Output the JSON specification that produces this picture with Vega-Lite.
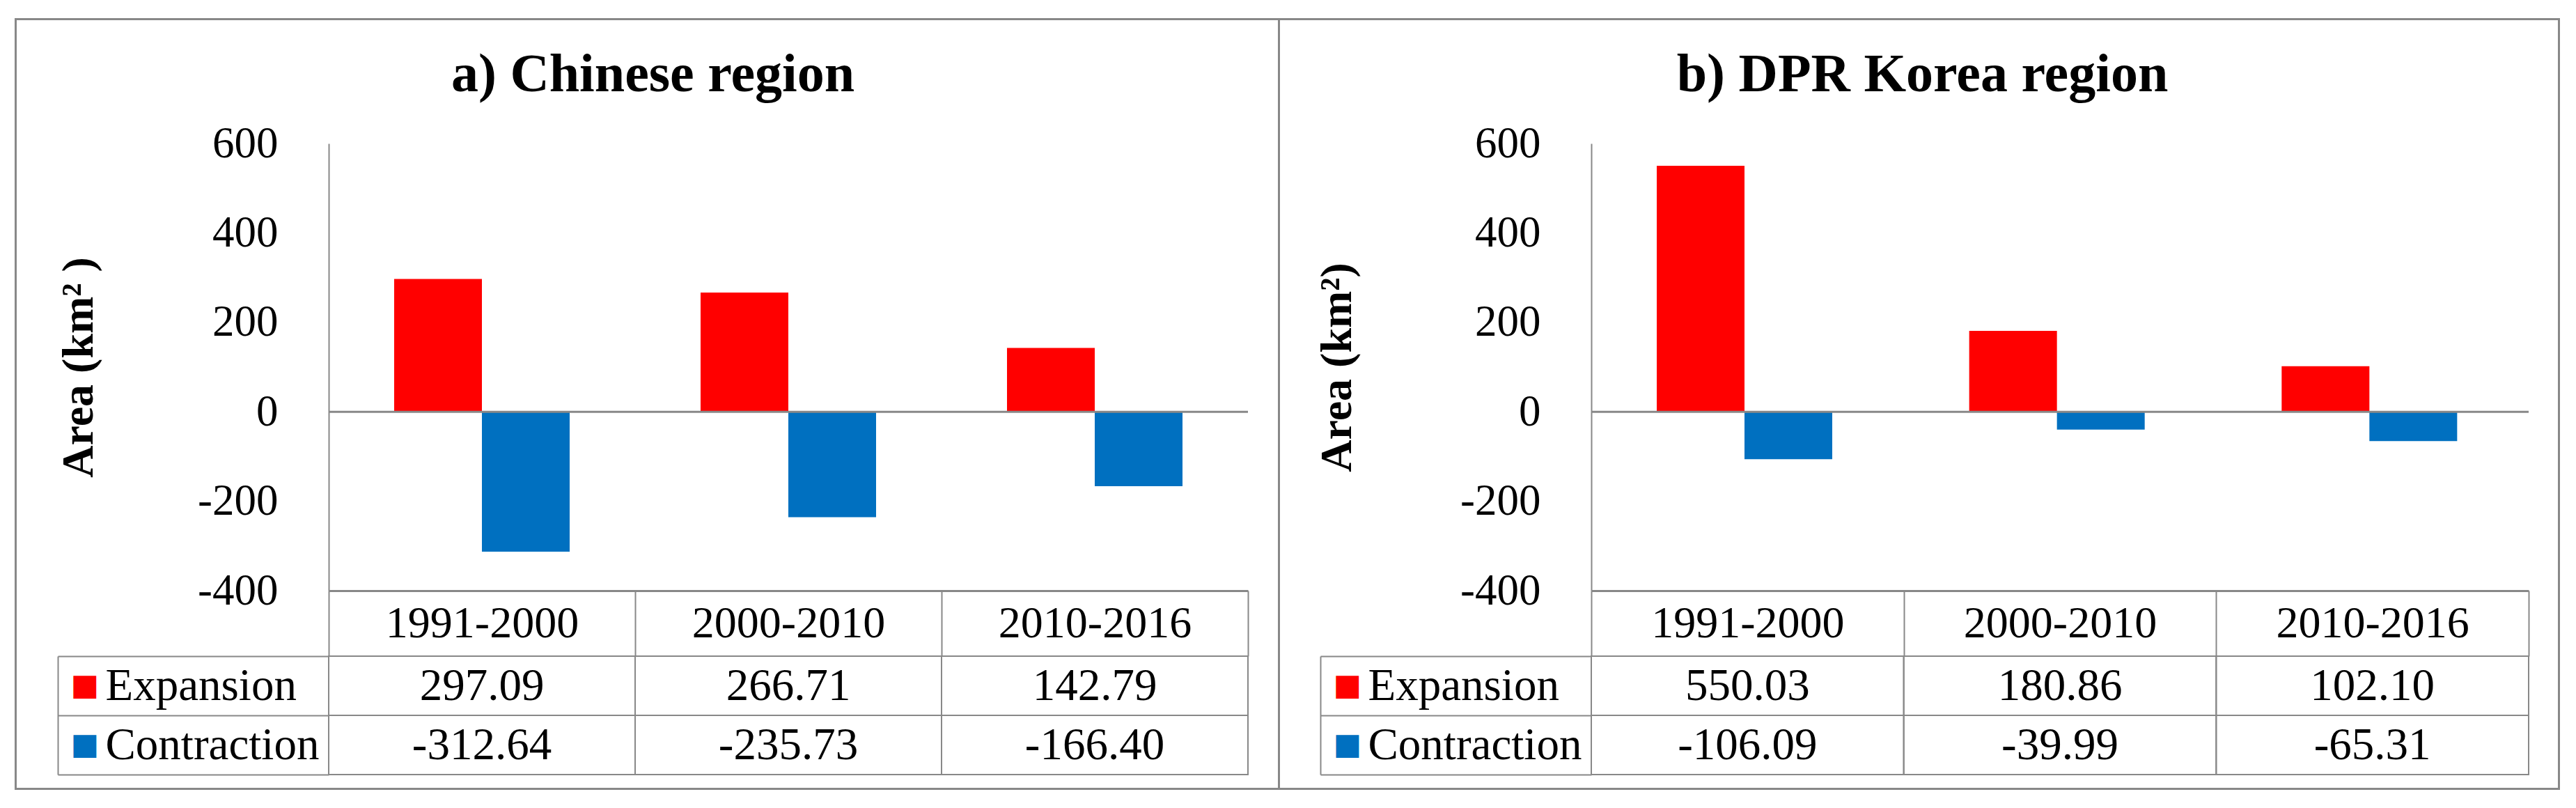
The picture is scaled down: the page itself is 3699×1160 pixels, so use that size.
{
  "$schema": "https://vega.github.io/schema/vega-lite/v6.json",
  "background": "white",
  "padding": {"left": 21, "top": 26, "right": 0, "bottom": 0},
  "config": {
    "view": {"stroke": null},
    "font": "Liberation Serif",
    "axis": {"labelLimit": 1000, "titleLimit": 1000},
    "locale": {"number": {"decimal": ".", "thousands": ",", "grouping": [3], "currency": ["$", ""], "minus": "-"}}
  },
  "datasets": {
    "cn": [
      {"period": "1991-2000", "series": "Expansion", "value": 297.09},
      {"period": "1991-2000", "series": "Contraction", "value": -312.64},
      {"period": "2000-2010", "series": "Expansion", "value": 266.71},
      {"period": "2000-2010", "series": "Contraction", "value": -235.73},
      {"period": "2010-2016", "series": "Expansion", "value": 142.79},
      {"period": "2010-2016", "series": "Contraction", "value": -166.40}
    ],
    "kp": [
      {"period": "1991-2000", "series": "Expansion", "value": 550.03},
      {"period": "1991-2000", "series": "Contraction", "value": -106.09},
      {"period": "2000-2010", "series": "Expansion", "value": 180.86},
      {"period": "2000-2010", "series": "Contraction", "value": -39.99},
      {"period": "2010-2016", "series": "Expansion", "value": 102.10},
      {"period": "2010-2016", "series": "Contraction", "value": -65.31}
    ],
    "none": []
  },
  "columns": 9,
  "spacing": 0,
  "align": "each",
  "bounds": "flush",
  "concat": [
    {"width": 3, "height": 3, "data": {"name": "none"}, "mark": "rule", "encoding": {}, "view": {"fill": "#888888", "stroke": null}},
    {"width": 448, "height": 3, "data": {"name": "none"}, "mark": "rule", "encoding": {}, "view": {"fill": "#888888", "stroke": null}},
    {"width": 1320, "height": 3, "data": {"name": "none"}, "mark": "rule", "encoding": {}, "view": {"fill": "#888888", "stroke": null}},
    {"width": 43, "height": 3, "data": {"name": "none"}, "mark": "rule", "encoding": {}, "view": {"fill": "#888888", "stroke": null}},
    {"width": 3, "height": 3, "data": {"name": "none"}, "mark": "rule", "encoding": {}, "view": {"fill": "#888888", "stroke": null}},
    {"width": 447, "height": 3, "data": {"name": "none"}, "mark": "rule", "encoding": {}, "view": {"fill": "#888888", "stroke": null}},
    {"width": 1346, "height": 3, "data": {"name": "none"}, "mark": "rule", "encoding": {}, "view": {"fill": "#888888", "stroke": null}},
    {"width": 42, "height": 3, "data": {"name": "none"}, "mark": "rule", "encoding": {}, "view": {"fill": "#888888", "stroke": null}},
    {"width": 3, "height": 3, "data": {"name": "none"}, "mark": "rule", "encoding": {}, "view": {"fill": "#888888", "stroke": null}},

    {"width": 3, "height": 177, "data": {"name": "none"}, "mark": "rule", "encoding": {}, "view": {"fill": "#888888", "stroke": null}},
    {"width": 448, "height": 177, "data": {"name": "none"}, "mark": "rule", "encoding": {}, "view": {"stroke": null}},
    {"width": 1320, "height": 177, "data": {"name": "none"}, "mark": "rule", "encoding": {}, "view": {"stroke": null}},
    {"width": 43, "height": 177, "data": {"name": "none"}, "mark": "rule", "encoding": {}, "view": {"stroke": null}},
    {"width": 3, "height": 177, "data": {"name": "none"}, "mark": "rule", "encoding": {}, "view": {"fill": "#888888", "stroke": null}},
    {"width": 447, "height": 177, "data": {"name": "none"}, "mark": "rule", "encoding": {}, "view": {"stroke": null}},
    {"width": 1346, "height": 177, "data": {"name": "none"}, "mark": "rule", "encoding": {}, "view": {"stroke": null}},
    {"width": 42, "height": 177, "data": {"name": "none"}, "mark": "rule", "encoding": {}, "view": {"stroke": null}},
    {"width": 3, "height": 177, "data": {"name": "none"}, "mark": "rule", "encoding": {}, "view": {"fill": "#888888", "stroke": null}},

    {"width": 3, "height": 642, "data": {"name": "none"}, "mark": "rule", "encoding": {}, "view": {"fill": "#888888", "stroke": null}},
    {"width": 448, "height": 642, "data": {"name": "none"}, "mark": "rule", "encoding": {}, "view": {"stroke": null}},
    {
      "width": 1320, "height": 642,
      "data": {"name": "cn"},
      "title": {"text": "a) Chinese region", "font": "Liberation Serif", "fontSize": 78, "fontWeight": "bold", "color": "black", "anchor": "middle", "frame": "bounds", "offset": 28},
      "layer": [
        {
          "mark": {"type": "bar"},
          "encoding": {
            "x": {"field": "period", "type": "nominal", "sort": null, "scale": {"paddingInner": 0, "paddingOuter": 0},
                  "axis": {"title": null, "orient": "bottom", "domain": true, "domainColor": "#888888", "domainWidth": 3, "ticks": true, "tickBand": "extent", "tickSize": 94, "tickColor": "#888888", "tickWidth": 2, "labelAngle": 0, "labelFont": "Liberation Serif", "labelFontSize": 64, "labelColor": "black", "labelBaseline": "middle", "labelPadding": -47, "labelOverlap": false, "labelLimit": 1000, "grid": false}},
            "xOffset": {"field": "series", "type": "nominal", "sort": ["Expansion", "Contraction"], "scale": {"paddingInner": 0, "paddingOuter": 0.746}},
            "y": {"field": "value", "type": "quantitative", "scale": {"domain": [-400, 600], "nice": false},
                  "axis": {"title": "Area (km² )", "titleFont": "Liberation Serif", "titleFontSize": 64, "titleFontWeight": "bold", "titleColor": "black", "titlePadding": 138, "labelFont": "Liberation Serif", "labelFontSize": 63, "labelColor": "black", "labelPadding": 73, "labelFlush": false, "ticks": false, "grid": false, "domainColor": "#888888", "domainWidth": 2, "values": [-400, -200, 0, 200, 400, 600]}},
            "color": {"field": "series", "type": "nominal", "scale": {"domain": ["Expansion", "Contraction"], "range": ["#FF0000", "#0070C0"]}, "legend": null}
          }
        },
        {
          "data": {"values": [{}]},
          "mark": {"type": "rule", "color": "#888888", "strokeWidth": 3},
          "encoding": {"y": {"datum": 0}}
        }
      ]
    },
    {"width": 43, "height": 642, "data": {"name": "none"}, "mark": "rule", "encoding": {}, "view": {"stroke": null}},
    {"width": 3, "height": 642, "data": {"name": "none"}, "mark": "rule", "encoding": {}, "view": {"fill": "#888888", "stroke": null}},
    {"width": 447, "height": 642, "data": {"name": "none"}, "mark": "rule", "encoding": {}, "view": {"stroke": null}},
    {
      "width": 1346, "height": 642,
      "data": {"name": "kp"},
      "title": {"text": "b) DPR Korea region", "font": "Liberation Serif", "fontSize": 78, "fontWeight": "bold", "color": "black", "anchor": "middle", "frame": "bounds", "offset": 28},
      "layer": [
        {
          "mark": {"type": "bar"},
          "encoding": {
            "x": {"field": "period", "type": "nominal", "sort": null, "scale": {"paddingInner": 0, "paddingOuter": 0},
                  "axis": {"title": null, "orient": "bottom", "domain": true, "domainColor": "#888888", "domainWidth": 3, "ticks": true, "tickBand": "extent", "tickSize": 94, "tickColor": "#888888", "tickWidth": 2, "labelAngle": 0, "labelFont": "Liberation Serif", "labelFontSize": 64, "labelColor": "black", "labelBaseline": "middle", "labelPadding": -47, "labelOverlap": false, "labelLimit": 1000, "grid": false}},
            "xOffset": {"field": "series", "type": "nominal", "sort": ["Expansion", "Contraction"], "scale": {"paddingInner": 0, "paddingOuter": 0.746}},
            "y": {"field": "value", "type": "quantitative", "scale": {"domain": [-400, 600], "nice": false},
                  "axis": {"title": "Area (km²)", "titleFont": "Liberation Serif", "titleFontSize": 64, "titleFontWeight": "bold", "titleColor": "black", "titlePadding": 144, "labelFont": "Liberation Serif", "labelFontSize": 63, "labelColor": "black", "labelPadding": 73, "labelFlush": false, "ticks": false, "grid": false, "domainColor": "#888888", "domainWidth": 2, "values": [-400, -200, 0, 200, 400, 600]}},
            "color": {"field": "series", "type": "nominal", "scale": {"domain": ["Expansion", "Contraction"], "range": ["#FF0000", "#0070C0"]}, "legend": null}
          }
        },
        {
          "data": {"values": [{}]},
          "mark": {"type": "rule", "color": "#888888", "strokeWidth": 3},
          "encoding": {"y": {"datum": 0}}
        }
      ]
    },
    {"width": 42, "height": 642, "data": {"name": "none"}, "mark": "rule", "encoding": {}, "view": {"stroke": null}},
    {"width": 3, "height": 642, "data": {"name": "none"}, "mark": "rule", "encoding": {}, "view": {"fill": "#888888", "stroke": null}},

    {"width": 3, "height": 94, "data": {"name": "none"}, "mark": "rule", "encoding": {}, "view": {"fill": "#888888", "stroke": null}},
    {"width": 448, "height": 94, "data": {"name": "none"}, "mark": "rule", "encoding": {}, "view": {"stroke": null}},
    {"width": 1320, "height": 94, "data": {"name": "none"}, "mark": "rule", "encoding": {}, "view": {"stroke": null}},
    {"width": 43, "height": 94, "data": {"name": "none"}, "mark": "rule", "encoding": {}, "view": {"stroke": null}},
    {"width": 3, "height": 94, "data": {"name": "none"}, "mark": "rule", "encoding": {}, "view": {"fill": "#888888", "stroke": null}},
    {"width": 447, "height": 94, "data": {"name": "none"}, "mark": "rule", "encoding": {}, "view": {"stroke": null}},
    {"width": 1346, "height": 94, "data": {"name": "none"}, "mark": "rule", "encoding": {}, "view": {"stroke": null}},
    {"width": 42, "height": 94, "data": {"name": "none"}, "mark": "rule", "encoding": {}, "view": {"stroke": null}},
    {"width": 3, "height": 94, "data": {"name": "none"}, "mark": "rule", "encoding": {}, "view": {"fill": "#888888", "stroke": null}},

    {"width": 3, "height": 170, "data": {"name": "none"}, "mark": "rule", "encoding": {}, "view": {"fill": "#888888", "stroke": null}},
    {"width": 448, "height": 170, "data": {"name": "none"}, "mark": "rule", "encoding": {}, "view": {"stroke": null}},
    {
      "width": 1320, "height": 170,
      "data": {"name": "cn"},
      "layer": [
        {
          "mark": {"type": "rect", "fill": "transparent", "stroke": "#888888", "strokeWidth": 2},
          "encoding": {
            "x": {"field": "period", "type": "nominal", "sort": null, "scale": {"paddingInner": 0, "paddingOuter": 0}, "axis": null},
            "y": {"field": "series", "type": "nominal", "sort": ["Expansion", "Contraction"], "scale": {"paddingInner": 0, "paddingOuter": 0},
                  "axis": {"orient": "left", "title": null, "domain": false, "ticks": true, "tickBand": "extent", "tickSize": 389, "tickColor": "#888888", "tickWidth": 2, "labelFont": "Liberation Serif", "labelFontSize": 65, "labelColor": "black", "labelAlign": "left", "labelBaseline": "middle", "labelPadding": -68, "labelLimit": 1000, "grid": false}}
          }
        },
        {
          "mark": {"type": "text", "font": "Liberation Serif", "fontSize": 65, "color": "black", "align": "center", "baseline": "middle"},
          "encoding": {
            "x": {"field": "period", "type": "nominal", "sort": null, "axis": null},
            "y": {"field": "series", "type": "nominal", "sort": ["Expansion", "Contraction"],
                  "axis": {"orient": "left", "offset": 389, "title": null, "domain": true, "domainColor": "#888888", "domainWidth": 2, "ticks": false, "labelExpr": "'■'", "labelColor": {"condition": {"test": "datum.value == 'Expansion'", "value": "#FF0000"}, "value": "#0070C0"}, "labelFont": "DejaVu Sans", "labelFontSize": 43, "labelAlign": "left", "labelBaseline": "middle", "labelPadding": -18, "grid": false}},
            "text": {"field": "value", "type": "quantitative", "format": ".2f"}
          }
        }
      ],
      "resolve": {"axis": {"y": "independent"}}
    },
    {"width": 43, "height": 170, "data": {"name": "none"}, "mark": "rule", "encoding": {}, "view": {"stroke": null}},
    {"width": 3, "height": 170, "data": {"name": "none"}, "mark": "rule", "encoding": {}, "view": {"fill": "#888888", "stroke": null}},
    {"width": 447, "height": 170, "data": {"name": "none"}, "mark": "rule", "encoding": {}, "view": {"stroke": null}},
    {
      "width": 1346, "height": 170,
      "data": {"name": "kp"},
      "layer": [
        {
          "mark": {"type": "rect", "fill": "transparent", "stroke": "#888888", "strokeWidth": 2},
          "encoding": {
            "x": {"field": "period", "type": "nominal", "sort": null, "scale": {"paddingInner": 0, "paddingOuter": 0}, "axis": null},
            "y": {"field": "series", "type": "nominal", "sort": ["Expansion", "Contraction"], "scale": {"paddingInner": 0, "paddingOuter": 0},
                  "axis": {"orient": "left", "title": null, "domain": false, "ticks": true, "tickBand": "extent", "tickSize": 389, "tickColor": "#888888", "tickWidth": 2, "labelFont": "Liberation Serif", "labelFontSize": 65, "labelColor": "black", "labelAlign": "left", "labelBaseline": "middle", "labelPadding": -68, "labelLimit": 1000, "grid": false}}
          }
        },
        {
          "mark": {"type": "text", "font": "Liberation Serif", "fontSize": 65, "color": "black", "align": "center", "baseline": "middle"},
          "encoding": {
            "x": {"field": "period", "type": "nominal", "sort": null, "axis": null},
            "y": {"field": "series", "type": "nominal", "sort": ["Expansion", "Contraction"],
                  "axis": {"orient": "left", "offset": 389, "title": null, "domain": true, "domainColor": "#888888", "domainWidth": 2, "ticks": false, "labelExpr": "'■'", "labelColor": {"condition": {"test": "datum.value == 'Expansion'", "value": "#FF0000"}, "value": "#0070C0"}, "labelFont": "DejaVu Sans", "labelFontSize": 43, "labelAlign": "left", "labelBaseline": "middle", "labelPadding": -18, "grid": false}},
            "text": {"field": "value", "type": "quantitative", "format": ".2f"}
          }
        }
      ],
      "resolve": {"axis": {"y": "independent"}}
    },
    {"width": 42, "height": 170, "data": {"name": "none"}, "mark": "rule", "encoding": {}, "view": {"stroke": null}},
    {"width": 3, "height": 170, "data": {"name": "none"}, "mark": "rule", "encoding": {}, "view": {"fill": "#888888", "stroke": null}},

    {"width": 3, "height": 19, "data": {"name": "none"}, "mark": "rule", "encoding": {}, "view": {"fill": "#888888", "stroke": null}},
    {"width": 448, "height": 19, "data": {"name": "none"}, "mark": "rule", "encoding": {}, "view": {"stroke": null}},
    {"width": 1320, "height": 19, "data": {"name": "none"}, "mark": "rule", "encoding": {}, "view": {"stroke": null}},
    {"width": 43, "height": 19, "data": {"name": "none"}, "mark": "rule", "encoding": {}, "view": {"stroke": null}},
    {"width": 3, "height": 19, "data": {"name": "none"}, "mark": "rule", "encoding": {}, "view": {"fill": "#888888", "stroke": null}},
    {"width": 447, "height": 19, "data": {"name": "none"}, "mark": "rule", "encoding": {}, "view": {"stroke": null}},
    {"width": 1346, "height": 19, "data": {"name": "none"}, "mark": "rule", "encoding": {}, "view": {"stroke": null}},
    {"width": 42, "height": 19, "data": {"name": "none"}, "mark": "rule", "encoding": {}, "view": {"stroke": null}},
    {"width": 3, "height": 19, "data": {"name": "none"}, "mark": "rule", "encoding": {}, "view": {"fill": "#888888", "stroke": null}},

    {"width": 3, "height": 3, "data": {"name": "none"}, "mark": "rule", "encoding": {}, "view": {"fill": "#888888", "stroke": null}},
    {"width": 448, "height": 3, "data": {"name": "none"}, "mark": "rule", "encoding": {}, "view": {"fill": "#888888", "stroke": null}},
    {"width": 1320, "height": 3, "data": {"name": "none"}, "mark": "rule", "encoding": {}, "view": {"fill": "#888888", "stroke": null}},
    {"width": 43, "height": 3, "data": {"name": "none"}, "mark": "rule", "encoding": {}, "view": {"fill": "#888888", "stroke": null}},
    {"width": 3, "height": 3, "data": {"name": "none"}, "mark": "rule", "encoding": {}, "view": {"fill": "#888888", "stroke": null}},
    {"width": 447, "height": 3, "data": {"name": "none"}, "mark": "rule", "encoding": {}, "view": {"fill": "#888888", "stroke": null}},
    {"width": 1346, "height": 3, "data": {"name": "none"}, "mark": "rule", "encoding": {}, "view": {"fill": "#888888", "stroke": null}},
    {"width": 42, "height": 3, "data": {"name": "none"}, "mark": "rule", "encoding": {}, "view": {"fill": "#888888", "stroke": null}},
    {"width": 3, "height": 3, "data": {"name": "none"}, "mark": "rule", "encoding": {}, "view": {"fill": "#888888", "stroke": null}}
  ]
}
